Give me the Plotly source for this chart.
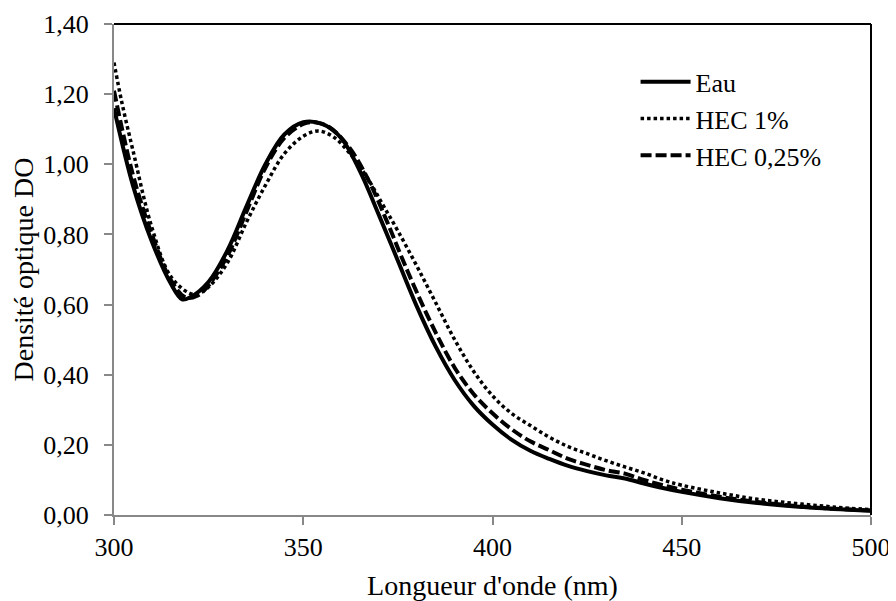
import plotly.graph_objects as go

# Eau (solid)
wl_eau = [300, 305, 310, 315, 318, 320, 325, 330, 335, 340, 345, 350, 355, 360, 365, 370, 375, 380, 385, 390, 395, 400, 405, 410, 415, 420, 425, 430, 435, 440, 445, 450, 460, 470, 480, 490, 500]
do_eau = [1.16, 0.94, 0.78, 0.66, 0.615, 0.62, 0.665, 0.755, 0.88, 1.0, 1.085, 1.12, 1.115, 1.075, 0.98, 0.855, 0.725, 0.595, 0.48, 0.385, 0.312, 0.258, 0.215, 0.183, 0.16, 0.14, 0.125, 0.113, 0.104, 0.09, 0.077, 0.066, 0.048, 0.034, 0.024, 0.017, 0.012]

# HEC 1% (dotted)
wl_hec1 = [300, 302, 305, 310, 315, 320, 322, 325, 330, 335, 340, 345, 350, 354, 358, 362, 367, 371, 375, 380, 385, 390, 395, 400, 405, 410, 415, 420, 425, 430, 435, 440, 445, 450, 460, 470, 480, 490, 500]
do_hec1 = [1.29, 1.18, 1.04, 0.82, 0.68, 0.632, 0.63, 0.65, 0.72, 0.835, 0.94, 1.03, 1.08, 1.095, 1.078, 1.035, 0.96, 0.885, 0.81, 0.71, 0.605, 0.5, 0.41, 0.34, 0.29, 0.255, 0.222, 0.195, 0.175, 0.155, 0.137, 0.12, 0.1, 0.085, 0.063, 0.045, 0.033, 0.023, 0.015]

# HEC 0,25% (dashed)
wl_hec025 = [300, 305, 310, 315, 319, 322, 325, 330, 335, 340, 345, 350, 353, 357, 362, 367, 372, 376, 380, 385, 390, 395, 400, 405, 410, 415, 420, 425, 430, 435, 440, 445, 450, 460, 470, 480, 490, 500]
do_hec025 = [1.21, 0.97, 0.80, 0.67, 0.62, 0.625, 0.655, 0.74, 0.865, 0.99, 1.075, 1.115, 1.12, 1.105, 1.05, 0.96, 0.84, 0.735, 0.635, 0.52, 0.42, 0.345, 0.29, 0.245, 0.21, 0.185, 0.16, 0.143, 0.128, 0.118, 0.1, 0.085, 0.072, 0.052, 0.037, 0.026, 0.018, 0.013]

series_names = ["Eau", "HEC 1%", "HEC 0,25%"]
x_ticks = [300, 350, 400, 450, 500]
y_ticks = [0, 0.2, 0.4, 0.6, 0.8, 1.0, 1.2, 1.4]

FONT = "Liberation Serif, Times New Roman, serif"
FS = 26
FS_TITLE = 28

fig = go.Figure()
fig.add_trace(go.Scatter(x=wl_eau, y=do_eau, name=series_names[0], mode="lines",
                         line=dict(color="black", width=4, shape="spline"), legendgroup="a"))
fig.add_trace(go.Scatter(x=wl_hec1, y=do_hec1, name=series_names[1], mode="lines",
                         line=dict(color="black", width=3.5, dash="3.5px,3px", shape="spline"), legendgroup="b"))
fig.add_trace(go.Scatter(x=wl_hec025, y=do_hec025, name=series_names[2], mode="lines",
                         line=dict(color="black", width=4, dash="11px,4px", shape="spline"), legendgroup="c"))

axis_common = dict(ticks="outside", ticklen=8, tickwidth=2, tickcolor="#888888",
                   showline=True, linecolor="#888888", linewidth=2,
                   showgrid=False, zeroline=False, automargin=False,
                   tickfont=dict(family=FONT, size=FS, color="black"))

# page body has an 8px margin, so the figure is sized to fit the 896x601 window
fig.update_layout(
    width=888, height=593,
    margin=dict(l=106, r=25, t=16, b=86),
    paper_bgcolor="white", plot_bgcolor="white",
    separators=", ",
    font=dict(family=FONT, size=FS, color="black"),
    showlegend=True,
    legend=dict(x=0.689, y=0.93, xanchor="left", yanchor="top",
                bgcolor="rgba(0,0,0,0)", font=dict(family=FONT, size=FS),
                tracegroupgap=0, itemwidth=50),
    xaxis=dict(range=[300, 500], tickvals=x_ticks, ticklabelstandoff=0,
               title=dict(text="Longueur d'onde (nm)", font=dict(family=FONT, size=FS_TITLE), standoff=15),
               **axis_common),
    yaxis=dict(range=[0, 1.4], tickvals=y_ticks, tickformat=".2f", ticklabelstandoff=10,
               title=dict(text="Densité optique DO", font=dict(family=FONT, size=FS_TITLE), standoff=8),
               **axis_common),
)
fig.add_shape(type="line", xref="paper", yref="paper", x0=0, x1=1, y0=1, y1=1,
              line=dict(color="black", width=2))
fig.add_shape(type="line", xref="paper", yref="paper", x0=1, x1=1, y0=0, y1=1,
              line=dict(color="black", width=2))

fig.write_html("out.html")
